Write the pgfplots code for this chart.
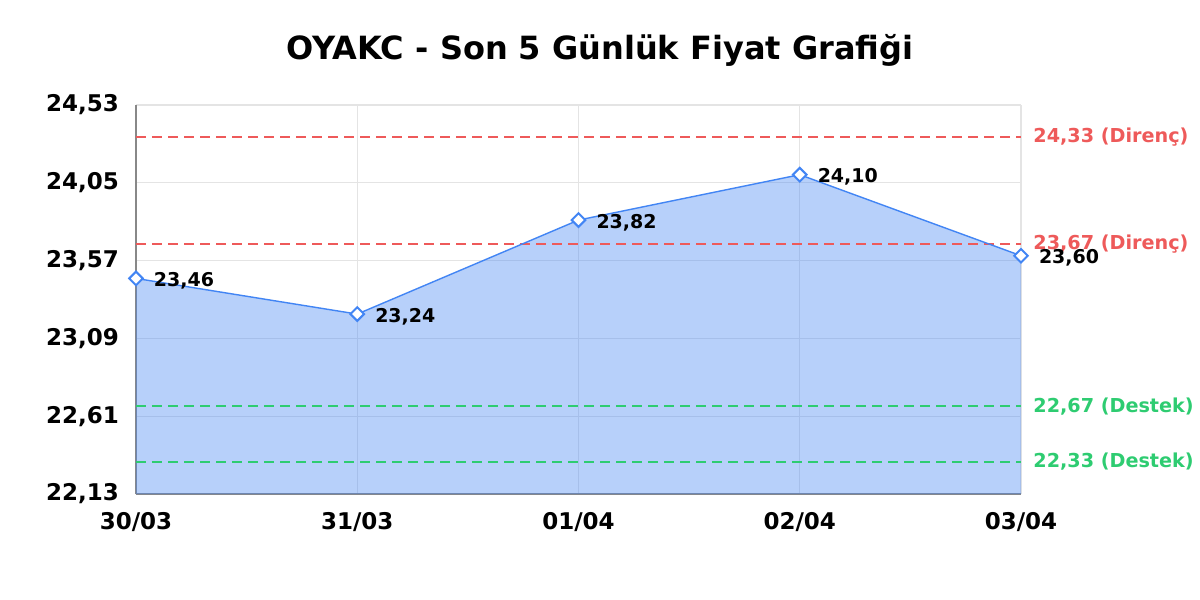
\documentclass[border=0pt]{standalone}
\usepackage{fontspec}
\setmainfont{DejaVu Sans}
\usepackage{pgfplots}
\pgfplotsset{compat=1.18}

\definecolor{lineblue}{HTML}{4285F4}
\definecolor{resred}{HTML}{EE5A5A}
\definecolor{supgreen}{HTML}{2ECC71}
\definecolor{gridgray}{HTML}{E4E4E4}
\definecolor{axgray}{HTML}{888888}

\begin{document}
\begin{tikzpicture}[x=0.5pt,y=0.5pt]
% page frame: 1200 x 600 px
\fill[white] (0,0) rectangle (1200,600);
\node[font=\bfseries\fontsize{16}{18}\selectfont] at (600,550) {OYAKC - Son 5 Günlük Fiyat Grafiği};

\begin{axis}[
  at={(68pt,53pt)}, anchor=origin,
  scale only axis,
  width=442.5pt, height=194.5pt,
  xmin=0, xmax=4,
  ymin=22.13, ymax=24.53,
  xtick={0,1,2,3,4},
  xticklabels={30/03,31/03,01/04,02/04,03/04},
  ytick={22.13,22.61,23.09,23.57,24.05,24.53},
  /pgf/number format/.cd, fixed, fixed zerofill, precision=2, use comma, assume math mode=true,
  /pgfplots/.cd,
  yticklabel={\pgfmathprintnumber{\tick}},
  tick label style={font=\bfseries\fontsize{11.5}{13}\selectfont},
  yticklabel style={xshift=-5pt},
  xticklabel style={yshift=-5.5pt},
  major tick length=0pt,
  grid=major,
  major grid style={gridgray, line width=0.6pt},
  axis x line*=bottom, axis y line*=left,
  axis line style={axgray, line width=0.8pt, -},
  clip=false,
]
% area under the price line
\addplot[draw=none, fill=lineblue, fill opacity=0.38] coordinates {
  (0,23.46) (1,23.24) (2,23.82) (3,24.10) (4,23.60)
} \closedcycle;

% support / resistance levels
\addplot[resred, dash pattern=on 5pt off 3pt, line width=1pt] coordinates {(0,24.33) (4,24.33)};
\addplot[resred, dash pattern=on 5pt off 3pt, line width=1pt] coordinates {(0,23.67) (4,23.67)};
\addplot[supgreen, dash pattern=on 5pt off 3pt, line width=1pt] coordinates {(0,22.67) (4,22.67)};
\addplot[supgreen, dash pattern=on 5pt off 3pt, line width=1pt] coordinates {(0,22.33) (4,22.33)};

% price line
\addplot[lineblue, line width=0.7pt, mark=square*,
  mark options={fill=white, draw=lineblue, line width=1pt, rotate=45}, mark size=2.4pt,
  nodes near coords,
  every node near coord/.append style={anchor=west, xshift=7.5pt, yshift=-1.2pt,
    black, font=\bfseries\fontsize{9.5}{11}\selectfont, inner sep=1pt},
] coordinates {
  (0,23.46) (1,23.24) (2,23.82) (3,24.10) (4,23.60)
};

\node[anchor=west, inner sep=0pt, text=resred, font=\bfseries\fontsize{9.6}{11}\selectfont] at (axis cs:4,24.33) [xshift=6pt] {24,33 (Direnç)};
\node[anchor=west, inner sep=0pt, text=resred, font=\bfseries\fontsize{9.6}{11}\selectfont] at (axis cs:4,23.67) [xshift=6pt] {23,67 (Direnç)};
\node[anchor=west, inner sep=0pt, text=supgreen, font=\bfseries\fontsize{9.6}{11}\selectfont] at (axis cs:4,22.67) [xshift=6pt] {22,67 (Destek)};
\node[anchor=west, inner sep=0pt, text=supgreen, font=\bfseries\fontsize{9.6}{11}\selectfont] at (axis cs:4,22.33) [xshift=6pt] {22,33 (Destek)};
\end{axis}
\end{tikzpicture}
\end{document}
